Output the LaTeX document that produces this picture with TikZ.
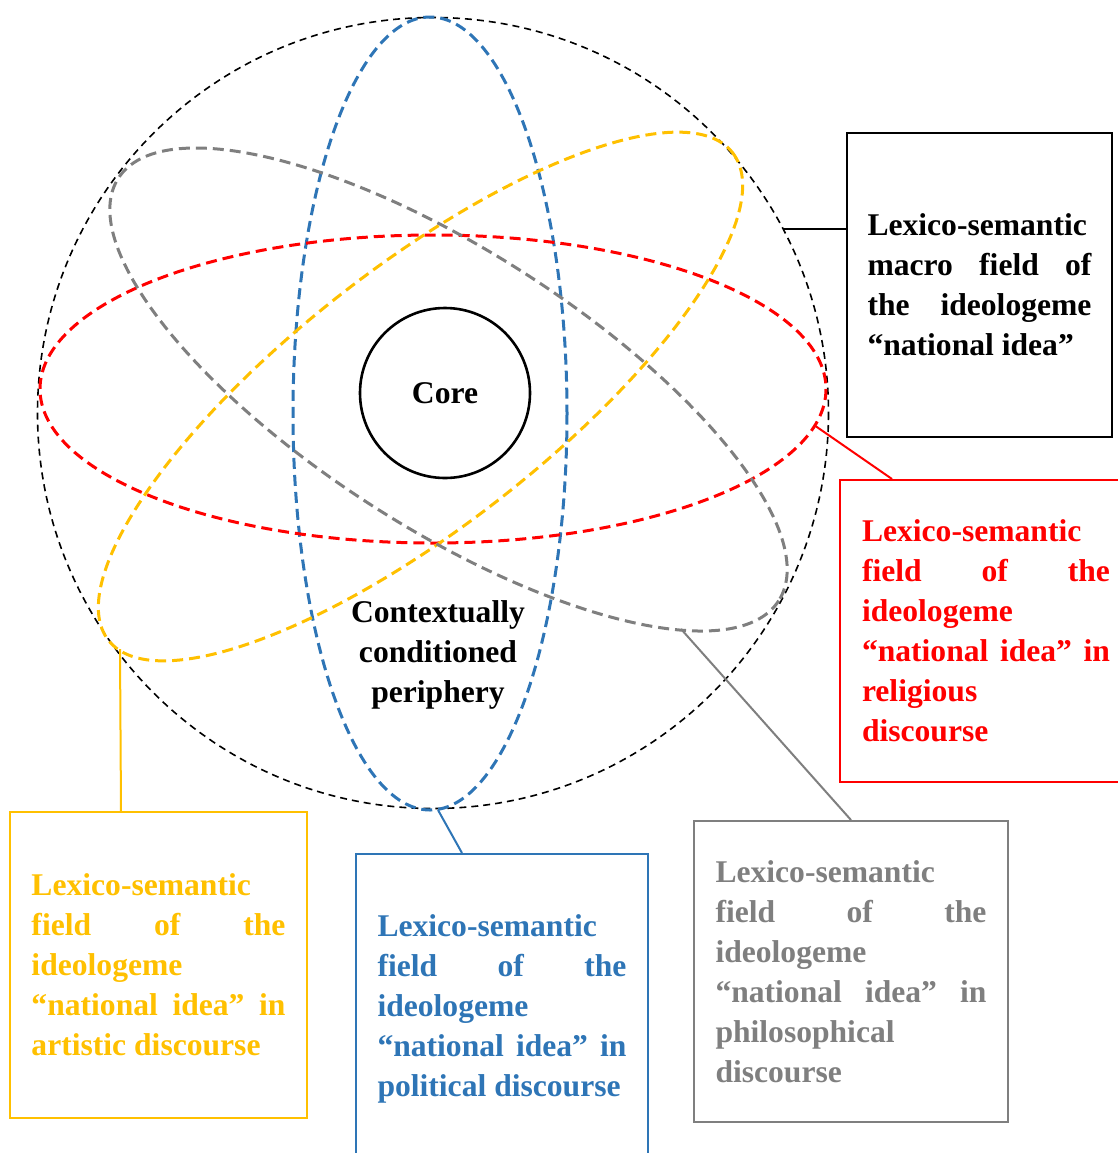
\documentclass[tikz,border=0pt]{standalone}
\usepackage{fontspec}
\setmainfont{Liberation Serif}
\tolerance=10000
\hbadness=10000
\definecolor{ochre}{HTML}{FFC000}
\definecolor{steel}{HTML}{2E75B6}
\definecolor{ash}{HTML}{7F7F7F}

\begin{document}
\begin{tikzpicture}[x=0.5pt,y=-0.5pt,nodes={font=\bfseries\fontsize{15.8}{20}\selectfont},
	ring/.style={dash pattern=on 5.5pt off 3pt, line width=1.5pt},
	field/.style={draw, rectangle, line width=1pt, align=justify, inner sep=0pt}]
	\useasboundingbox (0,0) rectangle (1118,1153);
	\clip (0,0) rectangle (1118,1153);

	\draw [dash pattern=on 3.5pt off 2.5pt, line width=0.8pt] (433,413) circle [radius=395.5];
	\draw [ring, steel] (430,413.5) ellipse [x radius=137, y radius=396.5];
	\draw [ring, red] (433,389) ellipse [x radius=393, y radius=154];
	\draw [ring, ochre, rotate around={38:(420.5,396.5)}] (420.5,396.5) ellipse [x radius=396, y radius=129.5];
	\draw [ring, ash, rotate around={-32.6:(448.5,389.5)}] (448.5,389.5) ellipse [x radius=392, y radius=139];

	\node (core) [draw, circle, line width=1.3pt, minimum size=85pt, inner sep=0pt] at (445,393) {Core};
	\node (periph) [align=center] at (438,655) {Contextually\\conditioned\\periphery};

	\node (macro) [field, minimum width=132.5pt, minimum height=152pt, text width=112pt] at (979.5,285)
		{Lexico-semantic\linebreak macro field of\linebreak the ideologeme\linebreak “national idea”};
	\node (relig) [field, red, minimum width=146pt, minimum height=151pt, text width=124pt] at (986,631)
		{Lexico-semantic\linebreak field of the\linebreak ideologeme\linebreak “national idea” in\linebreak religious\linebreak discourse};
	\node (philo) [field, ash, minimum width=157pt, minimum height=150.5pt, text width=135.5pt] at (851,971.5)
		{Lexico-semantic\linebreak field of the\linebreak ideologeme\linebreak “national idea” in\linebreak philosophical\linebreak discourse};
	\node (polit) [field, steel, minimum width=146pt, minimum height=155pt, text width=124.5pt] at (502,1009)
		{Lexico-semantic\linebreak field of the\linebreak ideologeme\linebreak “national idea” in\linebreak political discourse};
	\node (artis) [field, ochre, minimum width=148.5pt, minimum height=153pt, text width=127pt] at (158.5,965)
		{Lexico-semantic\linebreak field of the\linebreak ideologeme\linebreak “national idea” in\linebreak artistic discourse};

	\coordinate (mtip) at (783,229);
	\coordinate (rtip) at (814,425);
	\coordinate (ptip) at (681,629);
	\coordinate (btip) at (438,810);
	\coordinate (ytip) at (120,649);

	\draw [line width=1pt] (mtip) -- (mtip -| macro.west);
	\draw [red, line width=1pt] (rtip) -- ([shift={(53,0)}]relig.north west);
	\draw [ash, line width=1pt] (ptip) -- (philo.north);
	\draw [steel, line width=1pt] (btip) -- ([shift={(107,0)}]polit.north west);
	\draw [ochre, line width=1pt] (ytip) -- ([shift={(112,0)}]artis.north west);
\end{tikzpicture}
\end{document}
